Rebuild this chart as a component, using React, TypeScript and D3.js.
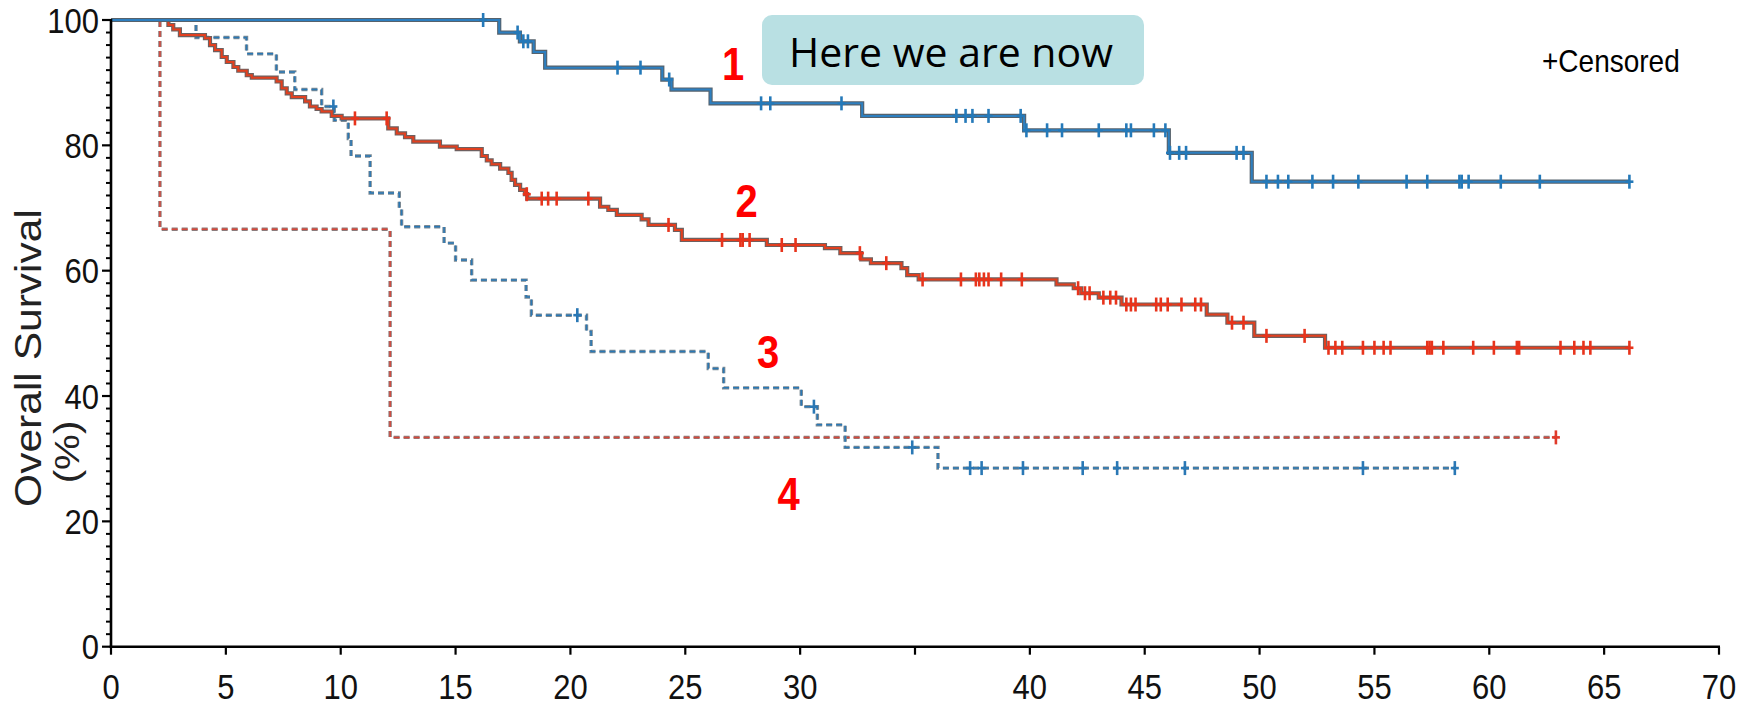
import React from 'react';
import * as d3 from 'd3';

// ---------- data ----------
const xTicks = [0, 5, 10, 15, 20, 25, 30, 35, 40, 45, 50, 55, 60, 65, 70];
const xTickLabels = ["0", "5", "10", "15", "20", "25", "30", "", "40", "45", "50", "55", "60", "65", "70"];
const yTicks = [0, 20, 40, 60, 80, 100];
const yTickLabels = ["0", "20", "40", "60", "80", "100"];
const yMinorTicks = [2,4,6,8,10,12,14,16,18,22,24,26,28,30,32,34,36,38,42,44,46,48,50,52,54,56,58,62,64,66,68,70,72,74,76,78,82,84,86,88,90,92,94,96,98];

// Group 1 (solid blue)
const g1Times = [16.9, 17.8, 18.4, 18.9, 24.0, 24.4, 26.1, 32.7, 39.75, 46.05, 49.66];
const g1Surv = [98.0, 96.6, 94.9, 92.4, 90.5, 88.9, 86.7, 84.7, 82.4, 78.8, 74.2];
const g1Censor = [16.2, 17.7, 17.95, 18.15, 22.05, 23.05, 24.3, 28.3, 28.7, 31.8, 36.8, 37.2, 37.5, 38.2, 39.6, 39.85, 40.75, 41.4, 43.0, 44.2, 44.4, 45.4, 45.9, 46.1, 46.5, 46.8, 49.0, 49.3, 50.3, 50.8, 51.25, 52.3, 53.2, 54.3, 56.4, 57.3, 58.7, 58.8, 59.1, 60.5, 62.2, 66.1];
const g1End = 66.1;

// Group 2 (solid red)
const g2Times = [2.5, 2.71, 3.0, 4.09, 4.31, 4.53, 4.82, 5.04, 5.33, 5.54, 5.91, 6.13, 7.21, 7.43, 7.65, 7.87, 8.45, 8.66, 8.95, 9.17, 9.61, 10.04, 12.07, 12.44, 12.8, 13.16, 14.32, 15.05, 16.14, 16.36, 16.57, 16.94, 17.3, 17.44, 17.59, 17.81, 18.02, 18.12, 21.29, 21.65, 22.02, 23.1, 23.4, 24.55, 24.85, 28.55, 31.08, 31.75, 32.66, 33.08, 34.41, 34.66, 35.16, 41.16, 41.91, 42.24, 43.0, 43.99, 47.7, 48.6, 49.77, 52.85];
const g2Surv = [99.2, 98.5, 97.6, 97.1, 96.0, 95.2, 94.1, 93.3, 92.5, 91.9, 91.2, 90.8, 90.2, 89.1, 88.3, 87.7, 87.0, 86.2, 85.8, 85.4, 84.7, 84.3, 82.7, 81.9, 81.3, 80.6, 79.8, 79.4, 78.3, 77.6, 77.0, 76.3, 75.6, 74.5, 73.7, 72.9, 72.2, 71.5, 70.2, 69.7, 68.9, 68.2, 67.3, 66.5, 64.9, 64.1, 63.6, 62.8, 61.8, 61.2, 60.4, 59.3, 58.6, 57.8, 57.2, 56.4, 55.7, 54.6, 53.0, 51.7, 49.6, 47.7];
const g2Censor = [10.62, 12.0, 18.1, 18.75, 19.03, 19.4, 20.78, 24.27, 26.6, 27.4, 27.5, 27.8, 29.2, 29.8, 32.6, 33.75, 35.33, 37.0, 37.65, 37.8, 38.0, 38.2, 38.75, 39.65, 42.1, 42.4, 42.6, 43.2, 43.5, 43.75, 44.2, 44.4, 44.6, 45.5, 45.7, 46.0, 46.6, 47.2, 47.45, 48.8, 49.3, 50.3, 51.96, 53.0, 53.3, 53.6, 54.5, 55.0, 55.4, 55.7, 57.3, 57.4, 57.5, 58.0, 59.3, 60.2, 61.2, 61.3, 63.1, 63.7, 64.1, 64.4, 66.1];
const g2End = 66.1;

// Group 3 (dashed blue)
const g3Times = [3.7, 5.9, 7.2, 8.0, 9.17, 9.72, 10.33, 10.45, 11.28, 12.55, 12.65, 14.5, 15.0, 15.7, 18.07, 18.3, 20.7, 20.9, 26.0, 26.67, 30.05, 30.75, 31.96, 36.0];
const g3Surv = [97.2, 94.6, 91.7, 88.9, 86.2, 84.0, 81.1, 78.3, 72.4, 69.8, 67.0, 64.4, 61.7, 58.5, 55.8, 52.9, 50.3, 47.1, 44.4, 41.3, 38.3, 35.4, 31.8, 28.5];
const g3Censor = [9.68, 20.3, 30.6, 34.88, 37.4, 37.9, 39.7, 42.3, 43.8, 46.75, 54.5, 58.5];
const g3End = 58.5;

// Group 4 (dashed red)
const g4Times = [2.13, 12.15];
const g4Surv = [66.6, 33.4];
const g4Censor = [62.9];
const g4End = 62.9;

const groupLabels = ["1", "2", "3", "4"];
const boxText = "Here we are now";
const censorLegend = "+Censored";
const yTitle = "Overall Survival";
const yTitle2 = "(%)";

// ---------- helpers ----------
const W = 1744;
const H = 707;
const x = d3.scaleLinear().domain([0, 70]).range([111, 1719]);
const y = d3.scaleLinear().domain([0, 100]).range([646.7, 20]);

function stepPath(times: number[], surv: number[], end: number) {
  const pts: [number, number][] = [[0, 100]];
  times.forEach((t, i) => pts.push([t, surv[i]]));
  pts.push([end, surv[surv.length - 1]]);
  const line = d3.line<[number, number]>()
    .x(d => x(d[0]))
    .y(d => y(d[1]))
    .curve(d3.curveStepAfter);
  return line(pts) || '';
}

function survAt(times: number[], surv: number[], t: number) {
  let v = 100;
  for (let i = 0; i < times.length; i++) {
    if (times[i] <= t + 1e-9) v = surv[i];
  }
  return v;
}

const SY = 1.14; // vertical stretch of text

function Censors({ times, surv, cens, color }: { times: number[]; surv: number[]; cens: number[]; color: string }) {
  return (
    <g stroke={color} strokeWidth={2.6}>
      {cens.map((t, i) => {
        const cx = x(t);
        const cy = y(survAt(times, surv, t));
        return (
          <g key={i}>
            <line x1={cx} x2={cx} y1={cy - 7} y2={cy + 7} />
            <line x1={cx - 4} x2={cx + 4} y1={cy} y2={cy} />
          </g>
        );
      })}
    </g>
  );
}

export default function App() {
  const p1 = stepPath(g1Times, g1Surv, g1End);
  const p2 = stepPath(g2Times, g2Surv, g2End);
  const p3 = stepPath(g3Times, g3Surv, g3End);
  const p4 = stepPath(g4Times, g4Surv, g4End);
  const font = '"Liberation Sans", Arial, Helvetica, sans-serif';

  return (
    <svg width={W} height={H} viewBox={`0 0 ${W} ${H}`}
      style={{ position: 'absolute', left: 0, top: 0, background: '#fff' }}>
      <rect x={0} y={0} width={W} height={H} fill="#fff" />

      {/* curve 4 dashed red */}
      <path d={p4} fill="none" stroke="#8c7c7c" strokeWidth={3.4} strokeDasharray="6,4" />
      <path d={p4} fill="none" stroke="#d9473a" strokeWidth={1.5} strokeDasharray="6,4" />
      <Censors times={g4Times} surv={g4Surv} cens={g4Censor} color="#e03a2a" />

      {/* curve 3 dashed blue */}
      <path d={p3} fill="none" stroke="#7d8a93" strokeWidth={3.4} strokeDasharray="6,4" />
      <path d={p3} fill="none" stroke="#2a78b5" strokeWidth={1.5} strokeDasharray="6,4" />
      <Censors times={g3Times} surv={g3Surv} cens={g3Censor} color="#2a78b5" />

      {/* curve 2 solid red */}
      <path d={p2} fill="none" stroke="#6e6060" strokeWidth={4.2} />
      <path d={p2} fill="none" stroke="#e2401f" strokeWidth={2} />
      <Censors times={g2Times} surv={g2Surv} cens={g2Censor} color="#e8341c" />

      {/* curve 1 solid blue */}
      <path d={p1} fill="none" stroke="#56626c" strokeWidth={4.2} />
      <path d={p1} fill="none" stroke="#2d7fc0" strokeWidth={2} />
      <Censors times={g1Times} surv={g1Surv} cens={g1Censor} color="#2479b9" />

      {/* axes */}
      <line x1={x(0)} x2={x(0)} y1={y(100) - 1} y2={y(0) + 1.3} stroke="#000" strokeWidth={2.6} />
      <line x1={x(0) - 1.3} x2={x(70) + 1} y1={y(0)} y2={y(0)} stroke="#000" strokeWidth={2.6} />
      {yMinorTicks.map(v => (
        <line key={'m' + v} x1={x(0) - 5} x2={x(0)} y1={y(v)} y2={y(v)} stroke="#000" strokeWidth={2} />
      ))}
      {yTicks.map((v, i) => (
        <g key={'y' + v}>
          <line x1={x(0) - 9} x2={x(0)} y1={y(v)} y2={y(v)} stroke="#000" strokeWidth={2.2} />
          <text transform={`translate(99,${y(v)}) scale(1,${SY})`} dy="0.36em" textAnchor="end"
            fontFamily={font} fontSize={31} fill="#111">{yTickLabels[i]}</text>
        </g>
      ))}
      {xTicks.map((v, i) => (
        <g key={'x' + v}>
          <line x1={x(v)} x2={x(v)} y1={y(0)} y2={y(0) + 8} stroke="#000" strokeWidth={2.2} />
          <text transform={`translate(${x(v)},699) scale(1,${SY})`} textAnchor="middle"
            fontFamily={font} fontSize={31} fill="#111">{xTickLabels[i]}</text>
        </g>
      ))}

      {/* y title */}
      <text transform={`translate(41,358) scale(1,1.15) rotate(-90)`} textAnchor="middle"
        fontFamily={font} fontSize={37} fill="#222">{yTitle}</text>
      <text transform={`translate(79,452) scale(1,1.15) rotate(-90)`} textAnchor="middle"
        fontFamily={font} fontSize={35} fill="#222">{yTitle2}</text>

      {/* group labels */}
      {[[733, 80], [746.5, 216.7], [768, 368], [788.6, 510]].map((pos, i) => (
        <text key={'g' + i} transform={`translate(${pos[0]},${pos[1]}) scale(1,${SY})`} textAnchor="middle"
          fontFamily={font} fontWeight="bold" fontSize={40} fill="#ff0000">{groupLabels[i]}</text>
      ))}

      {/* annotation box */}
      <rect x={762} y={15} width={382} height={70} rx={10} ry={10} fill="#b9e0e3" />
      <text x={951} y={66.7} textAnchor="middle" fontFamily='"Open Sans", Lato, sans-serif'
        fontSize={41} fill="#000">{boxText}</text>

      {/* censored legend */}
      <text transform={`translate(1542,72) scale(1,${SY})`} fontFamily={font} fontSize={28}
        fill="#000">{censorLegend}</text>
    </svg>
  );
}
